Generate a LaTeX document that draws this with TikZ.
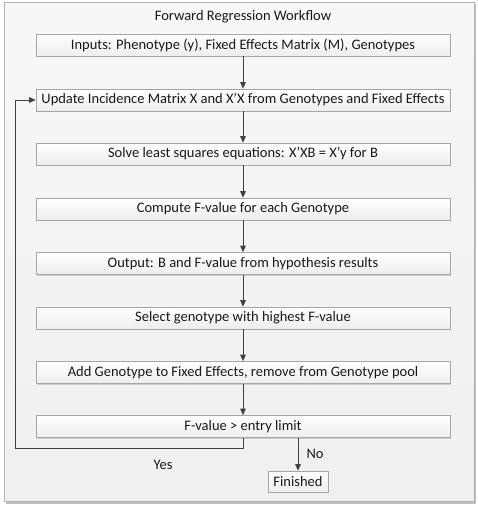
\documentclass[tikz,border=0pt]{standalone}
\usepackage{fontspec}
\setmainfont{Carlito}
\usetikzlibrary{arrows.meta,shadows,positioning}
\definecolor{frameline}{HTML}{B4B4B4}
\definecolor{boxline}{HTML}{A6A6A6}
\definecolor{arrowc}{HTML}{404040}
\tikzset{
  stepbox/.style={draw=boxline, line width=0.6pt, top color=white, bottom color=black!7,
    minimum height=22pt, inner sep=2pt, font=\fontsize{14.5}{16}\selectfont, text=black!90,
    drop shadow={shadow xshift=1.2pt, shadow yshift=-1.2pt, opacity=0.25, fill=black!60}},
  widebox/.style={stepbox, minimum width=414pt},
  arr/.style={draw=arrowc, line width=0.9pt, -{Triangle[length=6.5pt,width=5.5pt]}},
  lbl/.style={font=\fontsize{14.5}{16}\selectfont, text=black!90}
}
\begin{document}
\begin{tikzpicture}[x=1pt,y=-1pt]
\useasboundingbox (0,0) rectangle (478,506);
% outer frame
\fill[black!25] (6,4) rectangle (476,504);
\draw[frameline, line width=0.6pt, top color=white!97!black, bottom color=black!6] (4,2) rectangle (474,501);
\node[lbl] (title) at (243,17) {Forward Regression Workflow};
\node[widebox] (in)  at (243,45)    {Inputs: Phenotype (y), Fixed Effects Matrix (M), Genotypes};
\node[widebox] (up)  at (243,100)   {Update Incidence Matrix X and X’X from Genotypes and Fixed Effects};
\node[widebox] (so)  at (243,154)   {Solve least squares equations: X’XB = X’y for B};
\node[widebox] (co)  at (243,209)   {Compute F-value for each Genotype};
\node[widebox] (ou)  at (243,263.5) {Output: B and F-value from hypothesis results};
\node[widebox] (se)  at (243,318)   {Select genotype with highest F-value};
\node[widebox] (ad)  at (243,372.5) {Add Genotype to Fixed Effects, remove from Genotype pool};
\node[widebox] (fv)  at (243,426.5) {F-value > entry limit};
\node[stepbox, minimum width=60pt, minimum height=21pt] (fin) at (298,481.5) {Finished};
\draw[arr] (in) -- (up);
\draw[arr] (up) -- (so);
\draw[arr] (so) -- (co);
\draw[arr] (co) -- (ou);
\draw[arr] (ou) -- (se);
\draw[arr] (se) -- (ad);
\draw[arr] (ad) -- (fv);
\coordinate (lp) at (15,448);
\draw[arr] (fv.south) |- (lp) |- (up.west);
\draw[arr] (fv.south -| fin.north) -- (fin.north);
\node[lbl, anchor=west] (no) at (303,454) {No};
\node[lbl] (yes) at (163,465) {Yes};
\end{tikzpicture}
\end{document}
